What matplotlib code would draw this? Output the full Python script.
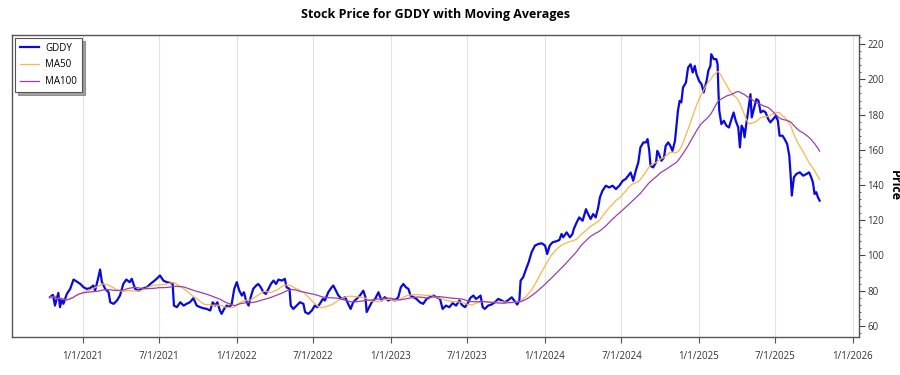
import matplotlib
matplotlib.use("Agg")
import matplotlib.pyplot as plt
from matplotlib.ticker import MultipleLocator
import pandas as pd

plt.rcParams['font.family'] = ['Open Sans', 'DejaVu Sans']

TICKER = "GDDY"
BASE_DATE = "2021-01-01"

# day offsets from BASE_DATE and closing prices
days = [
    -78, -71, -66, -62, -58, -54, -50, -46, -38, -30, -22, -14, -6, 2, 9, 17, 25, 29, 35, 41,
    45, 53, 61, 65, 73, 81, 88, 96, 103, 111, 116, 124, 132, 140, 152, 160, 167, 175, 183, 191,
    199, 207, 213, 216, 223, 231, 239, 246, 254, 262, 270, 278, 286, 294, 302, 308, 314, 319, 325, 329,
    335, 341, 348, 353, 359, 365, 371, 377, 382, 387, 393, 398, 404, 411, 416, 422, 428, 434, 440, 446,
    452, 458, 464, 472, 479, 483, 490, 493, 499, 507, 515, 523, 527, 535, 543, 550, 556, 562, 569, 574,
    582, 590, 594, 600, 606, 614, 622, 629, 635, 641, 649, 657, 665, 670, 673, 679, 685, 693, 701, 708,
    716, 724, 732, 740, 748, 754, 760, 766, 772, 777, 784, 791, 799, 807, 815, 823, 831, 839, 847, 853,
    861, 869, 877, 885, 893, 898, 906, 914, 919, 926, 932, 938, 943, 948, 953, 961, 969, 977, 985, 993,
    1001, 1009, 1017, 1024, 1030, 1035, 1038, 1044, 1051, 1057, 1064, 1072, 1080, 1088, 1096, 1101, 1107, 1114, 1122, 1130,
    1135, 1139, 1147, 1155, 1161, 1164, 1171, 1177, 1185, 1193, 1198, 1204, 1210, 1216, 1222, 1226, 1232, 1240, 1248, 1256,
    1264, 1272, 1280, 1287, 1293, 1299, 1305, 1311, 1317, 1322, 1329, 1335, 1339, 1343, 1346, 1352, 1359, 1362, 1366, 1372,
    1378, 1382, 1388, 1393, 1398, 1404, 1408, 1411, 1415, 1419, 1423, 1430, 1435, 1441, 1446, 1451, 1455, 1461, 1467, 1472,
    1479, 1483, 1488, 1490, 1496, 1502, 1505, 1507, 1509, 1514, 1520, 1526, 1532, 1538, 1543, 1548, 1554, 1558, 1562, 1566,
    1569, 1573, 1577, 1583, 1586, 1591, 1597, 1602, 1607, 1613, 1619, 1625, 1630, 1637, 1643, 1648, 1652, 1659, 1664, 1670,
    1675, 1678, 1681, 1686, 1692, 1700, 1708, 1716, 1722, 1727, 1731, 1735, 1739, 1743, 1747,
]
close = [
    76.3, 77.6, 71.5, 75.3, 78.7, 70.6, 75.3, 72.5, 78.1, 81.0, 86.3, 85.1, 83.8, 81.9, 81.0, 81.4, 82.9, 80.0, 85.7, 92.0,
    85.1, 81.0, 79.1, 73.4, 72.5, 74.4, 77.2, 83.8, 86.3, 84.8, 86.7, 81.0, 80.0, 81.0, 81.9, 83.8, 85.1, 86.7, 88.6, 85.7,
    84.8, 84.4, 83.8, 71.5, 70.6, 73.4, 71.5, 72.5, 73.4, 75.7, 71.5, 70.6, 70.0, 69.6, 68.7, 73.4, 71.5, 73.4, 68.7, 66.8,
    69.6, 71.5, 70.6, 72.5, 81.0, 84.8, 80.0, 77.2, 79.1, 74.4, 71.5, 76.3, 81.0, 82.9, 83.8, 81.9, 79.1, 78.1, 81.0, 83.8,
    85.7, 83.8, 86.3, 85.7, 86.7, 81.9, 81.0, 71.5, 69.6, 71.5, 73.4, 72.5, 67.8, 66.8, 68.7, 71.5, 70.6, 72.5, 75.3, 74.4,
    79.1, 81.9, 82.9, 80.0, 77.2, 75.3, 76.3, 72.5, 69.6, 73.4, 75.3, 77.2, 80.0, 76.3, 67.8, 70.6, 73.4, 75.3, 79.1, 74.4,
    76.3, 74.4, 75.3, 74.4, 76.3, 81.9, 83.8, 81.9, 81.0, 77.2, 76.3, 75.3, 73.4, 72.5, 75.3, 76.3, 77.2, 76.2, 75.3, 69.6,
    71.5, 70.6, 72.9, 71.5, 74.4, 72.1, 70.6, 73.4, 75.9, 77.2, 75.3, 76.2, 77.2, 70.6, 69.6, 71.5, 72.1, 73.4, 75.3, 74.4,
    73.4, 74.7, 76.2, 74.0, 72.1, 74.4, 85.7, 87.6, 92.3, 96.1, 101.8, 105.6, 106.5, 106.9, 105.6, 100.8, 105.6, 107.5, 108.0, 108.8,
    112.2, 110.3, 113.1, 110.3, 112.2, 115.0, 118.8, 121.6, 119.7, 126.3, 123.5, 120.7, 123.5, 121.6, 127.3, 133.0, 136.7, 139.6, 138.6, 139.6,
    137.7, 139.6, 142.4, 143.4, 145.3, 147.1, 142.4, 148.1, 152.8, 161.3, 164.2, 164.2, 166.1, 159.4, 150.9, 150.0, 152.8, 159.4, 157.5, 153.8,
    155.7, 162.3, 164.2, 162.3, 159.4, 165.1, 174.6, 182.1, 187.8, 186.9, 195.4, 198.2, 206.7, 208.6, 203.9, 207.7, 203.0, 199.2, 197.3, 192.6,
    199.2, 204.9, 207.7, 214.3, 211.5, 211.5, 208.7, 193.5, 182.2, 174.6, 176.5, 173.7, 172.7, 177.5, 181.2, 176.5, 172.7, 161.4, 173.7, 171.8,
    167.1, 174.6, 181.2, 191.6, 178.4, 183.1, 188.8, 187.9, 181.2, 182.2, 181.2, 177.5, 175.6, 177.5, 179.3, 176.5, 168.0, 168.0, 166.1, 163.3,
    156.7, 146.3, 134.0, 144.4, 146.3, 147.2, 145.3, 146.3, 147.2, 144.4, 141.5, 134.9, 135.9, 133.0, 131.1,
]

series_names = [TICKER, "MA50", "MA100"]
ma_windows = ["72D", "145D"]  # ~50 and ~100 trading days

x_ticks = ["2021-01-01", "2021-07-01", "2022-01-01", "2022-07-01", "2023-01-01", "2023-07-01",
           "2024-01-01", "2024-07-01", "2025-01-01", "2025-07-01", "2026-01-01"]
y_ticks = [60, 80, 100, 120, 140, 160, 180, 200, 220]

dates = pd.to_datetime(BASE_DATE) + pd.to_timedelta(days, unit="D")
s = pd.Series(close, index=dates)
# time-weighted moving averages: hold each reading until the next one
daily = s.resample("D").ffill()
ma50 = daily.rolling(ma_windows[0], min_periods=1).mean()
ma100 = daily.rolling(ma_windows[1], min_periods=1).mean()

fig = plt.figure(figsize=(9, 3.75), dpi=100)
ax = fig.add_axes([0.0133, 0.102, 0.941, 0.805])

ax.plot(s.index, s.values, color="#0a0adf", lw=1.6, label=series_names[0], zorder=3)
ax.plot(ma50.index, ma50.values, color="#f7b74a", lw=0.9, label=series_names[1], zorder=4)
ax.plot(ma100.index, ma100.values, color="#9a3fb0", lw=0.9, label=series_names[2], zorder=4)

ax.set_xlim(pd.Timestamp("2020-07-17"), pd.Timestamp("2026-01-15"))
ax.set_ylim(53.8, 225.3)

tick_dates = pd.to_datetime(x_ticks)
ax.set_xticks(tick_dates)
ax.set_xticklabels([f"{d.month}/{d.day}/{d.year}" for d in tick_dates], fontsize=7, color="#333333")
ax.tick_params(axis="x", length=4, pad=6, color="#555555")
ax.grid(axis="x", color="#e3e3e3", lw=0.8)
ax.set_axisbelow(True)

ax.yaxis.tick_right()
ax.yaxis.set_label_position("right")
ax.set_yticks(y_ticks)
ax.set_yticklabels([str(v) for v in y_ticks], fontsize=7, color="#333333")
ax.yaxis.set_minor_locator(MultipleLocator(4))
ax.tick_params(axis="y", which="major", length=4, pad=2, color="#444444")
ax.tick_params(axis="y", which="minor", length=1.5, color="#444444")
ax.set_ylabel("Price", rotation=270, fontsize=9, fontweight="bold", labelpad=12)

for sp in ax.spines.values():
    sp.set_color("#555555")
    sp.set_linewidth(1.0)

ax.set_title("Stock Price for GDDY with Moving Averages", fontsize=9, fontweight="bold", pad=12)

leg = ax.legend(loc="upper left", fontsize=7, frameon=True, fancybox=False, shadow=True,
                edgecolor="#555555", borderpad=0.5, handlelength=2.0, labelspacing=0.6,
                handletextpad=0.6, borderaxespad=0.3)
leg.get_frame().set_linewidth(0.8)

fig.savefig("out.png", dpi=100)
